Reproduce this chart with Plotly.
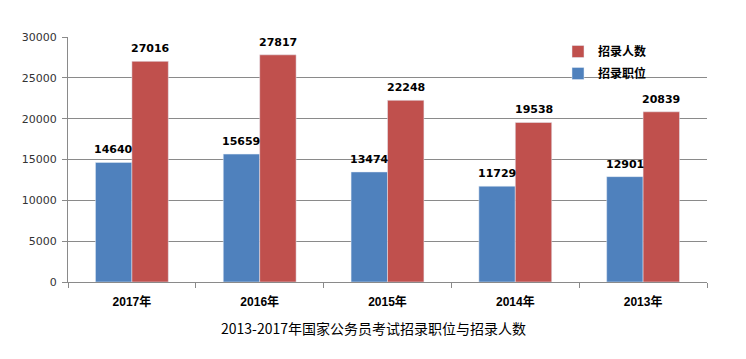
import plotly.graph_objects as go

categories = ["2017年", "2016年", "2015年", "2014年", "2013年"]
positions = [14640, 15659, 13474, 11729, 12901]
recruits = [27016, 27817, 22248, 19538, 20839]
y_ticks = [0, 5000, 10000, 15000, 20000, 25000, 30000]
title_text = "2013-2017年国家公务员考试招录职位与招录人数"

label_font = dict(family="DejaVu Sans", size=11, color="#000000", weight="bold")

# page body has an 8px default margin; figure placed at (8, 8)
OFF = 8
W, H = 746 - OFF, 359 - OFF
L, R, T, B = 68 - OFF, 746 - 707, 37 - OFF, 359 - 282
PW, PH = W - L - R, H - T - B
BARGAP = 0.43
n_cat = len(categories)
bar_px = PW / n_cat * (1 - BARGAP) / 2  # width of one bar in pixels

fig = go.Figure()
fig.add_trace(go.Bar(
    name="招录职位", x=categories, y=positions, marker_color="#4F81BD",
    legendrank=2, legendgroup="a",
))
fig.add_trace(go.Bar(
    name="招录人数", x=categories, y=recruits, marker_color="#C0504D",
    legendrank=1, legendgroup="b",
))

annotations = []
for series, sign in ((positions, -1), (recruits, 1)):
    for cat, v in zip(categories, series):
        annotations.append(dict(
            x=cat, y=v, xref="x", yref="y", text=str(v), showarrow=False,
            xanchor="center", yanchor="bottom", xshift=sign * bar_px / 2,
            yshift=4, font=label_font,
        ))
annotations.append(dict(
    text=title_text, xref="paper", yref="paper",
    x=(373 - 68) / 639, y=-(328 - 282) / 245, xanchor="center", yanchor="middle",
    showarrow=False,
    font=dict(family="Noto Sans CJK SC", size=14, color="#000000"),
))

fig.update_layout(
    width=W, height=H,
    margin=dict(l=L, r=R, t=T, b=B),
    paper_bgcolor="white", plot_bgcolor="white",
    barmode="group", bargap=BARGAP, bargroupgap=0,
    showlegend=True,
    legend=dict(x=(558 - 68) / 639, y=1.0, xanchor="left", yanchor="top",
                bgcolor="rgba(0,0,0,0)", itemwidth=30, traceorder="grouped",
                font=dict(family="Noto Sans CJK SC", size=12, color="#000000", weight="bold"),
                tracegroupgap=3),
    font=dict(family="DejaVu Sans", size=11, color="#333333"),
    xaxis=dict(
        type="category", showline=True, linecolor="#8a8a8a", linewidth=1,
        ticks="outside", tickson="boundaries", ticklen=5, tickcolor="#8a8a8a",
        showgrid=False, ticklabelstandoff=9,
        tickfont=dict(family="Liberation Sans, Noto Sans CJK SC", size=12,
                      color="#000000", weight="bold"),
    ),
    yaxis=dict(
        range=[0, 30000], tickvals=y_ticks, tickformat="d", showline=True,
        linecolor="#8a8a8a", linewidth=1, ticks="outside", ticklen=5,
        tickcolor="#8a8a8a", showgrid=True, gridcolor="#8a8a8a", gridwidth=1,
        zeroline=False, ticklabelstandoff=3,
        tickfont=dict(family="DejaVu Sans", size=11, color="#333333"),
    ),
    annotations=annotations,
)

fig.write_html("out.html")
